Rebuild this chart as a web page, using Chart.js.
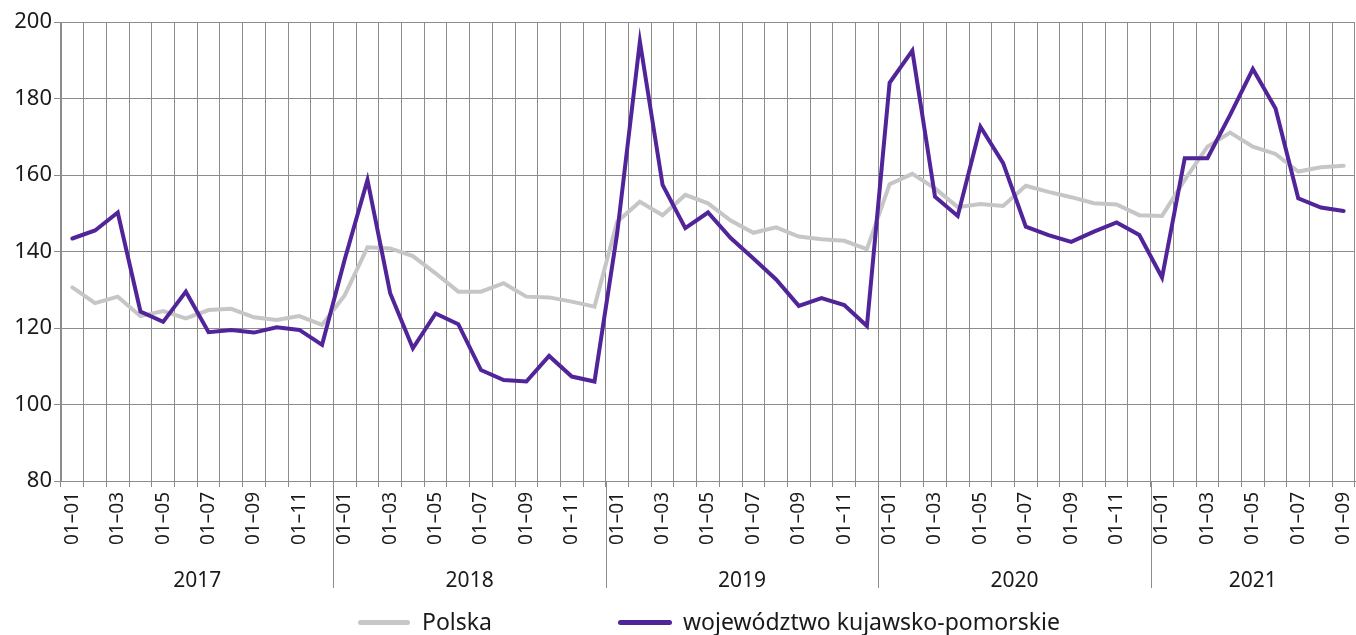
<!DOCTYPE html>
<html>
<head>
<meta charset="utf-8">
<script src="https://cdn.jsdelivr.net/npm/chart.js@4/dist/chart.umd.min.js"></script>
<style>
  html, body { margin: 0; padding: 0; background: #ffffff; }
  #wrap { position: relative; width: 1356px; height: 635px; }
  #legend { position: absolute; top: 607px; left: 0; width: 1356px; height: 28px;
            font-family: "Noto Sans", sans-serif; font-size: 23px; color: #1a1a1a; }
  .item { position: absolute; top: 0; height: 28px; line-height: 28px; white-space: nowrap; }
  .swatch { position: absolute; top: 13px; height: 5px; border-radius: 3px; }
</style>
</head>
<body>
<div id="wrap">
  <canvas id="c" width="1356" height="635"></canvas>
  <div id="legend">
    <div class="swatch" style="left:358px;width:52px;background:#c6c6c6"></div>
    <div class="item" style="left:422px">Polska</div>
    <div class="swatch" style="left:618px;width:54px;background:#51249a"></div>
    <div class="item" style="left:683px">województwo kujawsko-pomorskie</div>
  </div>
</div>
<script>
const years = ['2017', '2018', '2019', '2020', '2021'];
const monthsPerYear = [12, 12, 12, 12, 9];
const tickLabels = [
  '01–01','','01–03','','01–05','','01–07','','01–09','','01–11','',
  '01–01','','01–03','','01–05','','01–07','','01–09','','01–11','',
  '01–01','','01–03','','01–05','','01–07','','01–09','','01–11','',
  '01–01','','01–03','','01–05','','01–07','','01–09','','01–11','',
  '01–01','','01–03','','01–05','','01–07','','01–09'
];
const polska = [
  130.6, 126.5, 128.2, 123.1, 124.4, 122.5, 124.7, 125.0, 122.8, 122.1, 123.1, 120.8,
  128.6, 141.1, 140.8, 138.8, 134.3, 129.5, 129.5, 131.7, 128.2, 128.0, 126.9, 125.6,
  147.8, 153.0, 149.5, 154.8, 152.6, 148.1, 144.9, 146.3, 143.9, 143.2, 142.8, 140.6,
  157.6, 160.3, 156.5, 151.6, 152.4, 151.9, 157.2, 155.6, 154.2, 152.6, 152.3, 149.5,
  149.3, 158.7, 167.4, 171.1, 167.4, 165.5, 160.9, 162.0, 162.4
];
const kujPom = [
  143.4, 145.5, 150.2, 124.3, 121.6, 129.5, 118.9, 119.5, 118.8, 120.2, 119.5, 115.6,
  138.0, 158.7, 129.1, 114.7, 123.8, 121.0, 109.0, 106.4, 106.0, 112.7, 107.3, 106.0,
  144.8, 194.9, 157.4, 146.1, 150.2, 143.5, 138.2, 132.7, 125.8, 127.8, 126.0, 120.5,
  184.1, 192.5, 154.3, 149.3, 172.6, 163.1, 146.5, 144.3, 142.5, 145.2, 147.6, 144.3,
  133.2, 164.4, 164.4, 175.7, 187.7, 177.4, 153.9, 151.5, 150.6
];
const yTicks = [80, 100, 120, 140, 160, 180, 200];

const FONT = '"Noto Sans", sans-serif';
const TEXT = '#1a1a1a';
const GRID = '#8c8c8c';

const yearPlugin = {
  id: 'yearRow',
  afterDraw(chart) {
    const x = chart.scales.x;
    const ctx = chart.ctx;
    const half = (x.getPixelForValue(1) - x.getPixelForValue(0)) / 2;
    const top = chart.chartArea.bottom;
    ctx.save();
    ctx.font = '21px ' + FONT;
    ctx.fillStyle = TEXT;
    ctx.textAlign = 'center';
    ctx.textBaseline = 'alphabetic';
    let start = 0;
    years.forEach((yr, i) => {
      const n = monthsPerYear[i];
      const x0 = x.getPixelForValue(start) - half;
      const x1 = x.getPixelForValue(start + n - 1) + half;
      ctx.fillText(yr, (x0 + x1) / 2, 587);
      if (i > 0) {
        const px = Math.round(x0) + 0.5;
        ctx.strokeStyle = GRID;
        ctx.lineWidth = 1;
        ctx.beginPath();
        ctx.moveTo(px, top);
        ctx.lineTo(px, 588);
        ctx.stroke();
      }
      start += n;
    });
    ctx.restore();
  }
};

new Chart(document.getElementById('c'), {
  type: 'line',
  data: {
    labels: tickLabels,
    datasets: [
      {
        label: 'województwo kujawsko-pomorskie',
        data: kujPom,
        borderColor: '#51249a',
        backgroundColor: '#51249a',
        borderWidth: 4,
        pointRadius: 0,
        tension: 0,
        borderCapStyle: 'round',
        order: 0
      },
      {
        label: 'Polska',
        data: polska,
        borderColor: '#c6c6c6',
        backgroundColor: '#c6c6c6',
        borderWidth: 4,
        pointRadius: 0,
        tension: 0,
        borderCapStyle: 'round',
        order: 1
      }
    ]
  },
  options: {
    responsive: false,
    animation: false,
    layout: { padding: { top: 22, right: 1, bottom: 44, left: 0 } },
    plugins: {
      legend: { display: false },
      tooltip: { enabled: false }
    },
    scales: {
      x: {
        offset: true,
        grid: { offset: true, color: GRID, lineWidth: 1, tickLength: 6, drawTicks: true },
        border: { color: GRID },
        ticks: {
          autoSkip: false, maxRotation: 90, minRotation: 90, padding: 5,
          font: { family: FONT, size: 19 }, color: TEXT
        },
        afterFit(scale) {
          scale.height = 110;
          scale.paddingLeft = 0;
          scale.paddingRight = 0;
        }
      },
      y: {
        min: 80, max: 200,
        afterBuildTicks(scale) { scale.ticks = yTicks.map(v => ({ value: v })); },
        grid: { color: GRID, lineWidth: 1, tickLength: 7 },
        border: { color: GRID },
        ticks: { padding: 2, font: { family: FONT, size: 22 }, color: TEXT },
        afterFit(scale) { scale.width = 61; }
      }
    }
  },
  plugins: [yearPlugin]
});
</script>
</body>
</html>
